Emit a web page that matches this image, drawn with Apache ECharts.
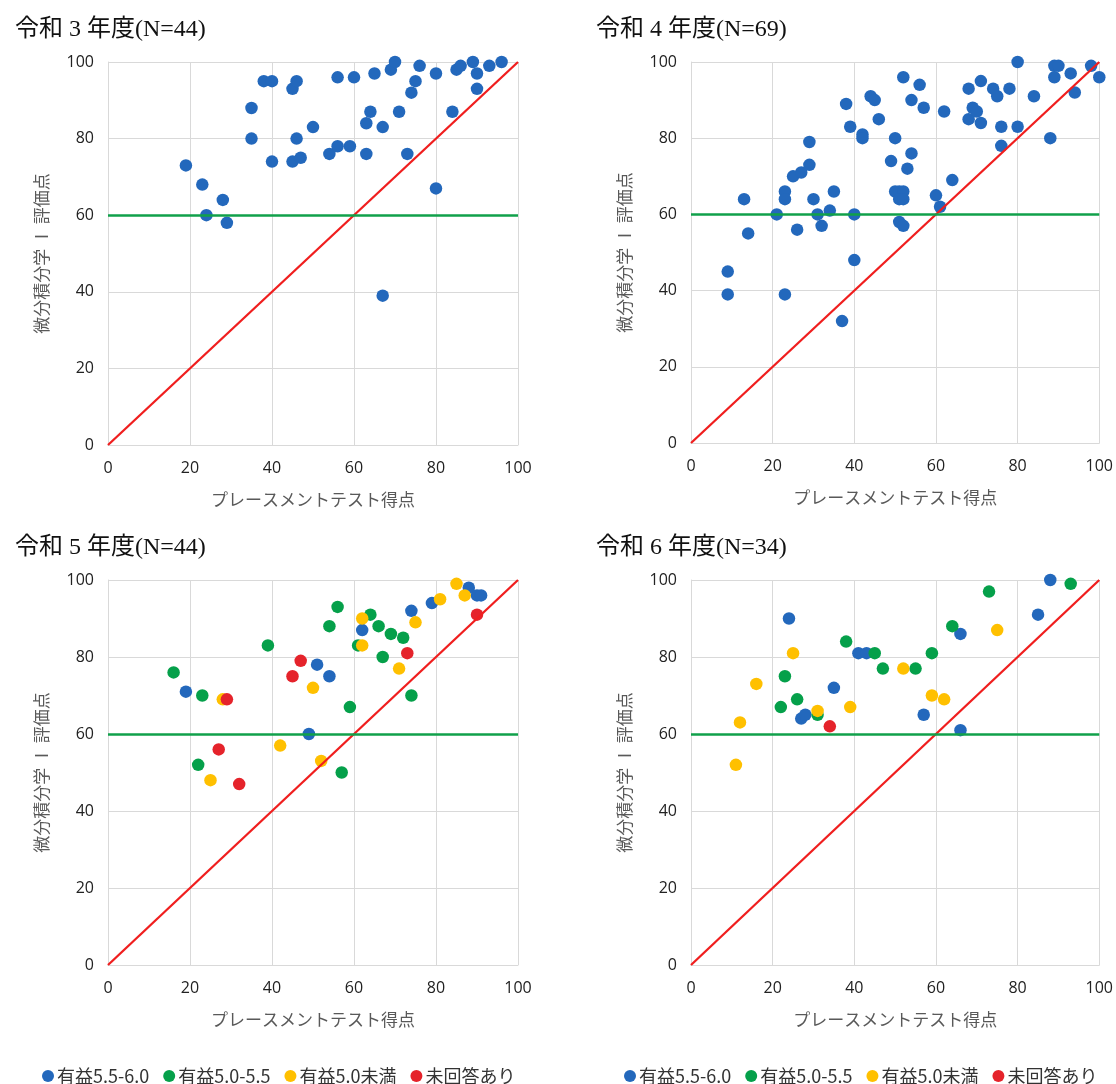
<!DOCTYPE html>
<html>
<head>
<meta charset="utf-8">
<script src="https://cdn.jsdelivr.net/npm/echarts@6/dist/echarts.min.js"></script>
<style>
html,body{margin:0;padding:0;background:#fff;}
#c{width:1116px;height:1084px;}
</style>
</head>
<body>
<div id="c"></div>
<script>
// ---- data ----
const panelTitles = ['令和 3 年度(N=44)', '令和 4 年度(N=69)', '令和 5 年度(N=44)', '令和 6 年度(N=34)'];
const categoryNames = ['有益5.5-6.0', '有益5.0-5.5', '有益5.0未満', '未回答あり'];
const xAxisName = 'プレースメントテスト得点';
const yAxisName = '微分積分学 Ⅰ 評価点';
const axisTicks = [0, 20, 40, 60, 80, 100];
const passLine = 60;
const diagonal = [[0, 0], [100, 100]];

const r3 = [[19,73],[23,68],[24,60],[28,64],[29,58],[35,88],[35,80],[38,95],[40,95],[40,74],
  [45,93],[46,95],[45,74],[47,75],[46,80],[50,83],[54,76],[56,78],[56,96],[59,78],
  [60,96],[63,76],[63,84],[64,87],[65,97],[67,83],[67,39],[69,98],[70,100],[71,87],
  [73,76],[74,92],[75,95],[76,99],[80,97],[80,67],[84,87],[85,98],[86,99],[89,100],
  [90,97],[90,93],[93,99],[96,100]];

const r4 = [[9,45],[9,39],[13,64],[14,55],[21,60],[23,66],[23,64],[23,39],[25,70],[27,71],
  [29,73],[29,79],[26,56],[30,64],[31,60],[32,57],[34,61],[35,66],[37,32],[38,89],
  [39,83],[40,60],[40,48],[42,81],[42,80],[44,91],[45,90],[46,85],[49,74],[50,80],
  [50,66],[51,66],[52,66],[51,64],[52,64],[51,58],[52,57],[52,96],[53,72],[54,76],
  [54,90],[56,94],[57,88],[60,65],[61,62],[62,87],[64,69],[68,93],[68,85],[69,88],
  [70,87],[71,95],[71,84],[74,93],[75,91],[76,83],[76,78],[78,93],[80,100],[80,83],
  [84,91],[88,80],[89,99],[90,99],[89,96],[93,97],[94,92],[98,99],[100,96]];

const r5Blue = [[19,71],[51,78],[54,75],[49,60],[62,87],[74,92],[79,94],[88,98],[90,96],[91,96]];
const r5Green = [[16,76],[23,70],[22,52],[39,83],[54,88],[56,93],[59,67],[57,50],[61,83],[64,91],
  [66,88],[67,80],[69,86],[72,85],[74,70]];
const r5Yellow = [[28,69],[25,48],[42,57],[50,72],[52,53],[62,90],[62,83],[71,77],[75,89],[81,95],
  [85,99],[87,96]];
const r5Red = [[29,69],[27,56],[32,47],[45,75],[47,79],[73,81],[90,91]];

const r6Blue = [[24,90],[27,64],[28,65],[35,72],[41,81],[43,81],[57,65],[66,86],[66,61],[85,91],[88,100]];
const r6Green = [[22,67],[23,75],[26,69],[31,65],[38,84],[45,81],[47,77],[55,77],[59,81],[64,88],
  [73,97],[93,99]];
const r6Yellow = [[12,63],[11,52],[16,73],[25,81],[31,66],[39,67],[52,77],[59,70],[62,69],[75,87]];
const r6Red = [[34,62]];

// ---- styles ----
const colors = ['#2368bc', '#05a04a', '#ffc000', '#e5232b'];
const grids = [
  {left:108, top:62, width:410, height:383},
  {left:691, top:62, width:410, height:381},
  {left:108, top:580, width:410, height:385},
  {left:691, top:580, width:410, height:385}
];
const titlePos = [{left:10, top:13}, {left:591, top:13}, {left:10, top:531}, {left:591, top:531}];
const labelFont = 'Open Sans';
const cjkFont = '"Noto Sans CJK JP", sans-serif';

const xAxes = [], yAxes = [], series = [], titles = [];
grids.forEach((g, i) => {
  xAxes.push({
    gridIndex:i, type:'value', min:axisTicks[0], max:axisTicks[axisTicks.length-1], interval:20,
    name:xAxisName, nameLocation:'middle', nameGap:46,
    nameTextStyle:{fontFamily:cjkFont, fontSize:17, color:'#595959'},
    axisLine:{show:true, lineStyle:{color:'#d9d9d9', width:1}},
    axisTick:{show:false},
    axisLabel:{fontFamily:labelFont, fontSize:16, color:'#222', margin:15},
    splitLine:{show:true, lineStyle:{color:'#d9d9d9', width:1}}
  });
  yAxes.push({
    gridIndex:i, type:'value', min:axisTicks[0], max:axisTicks[axisTicks.length-1], interval:20,
    name:yAxisName, nameLocation:'middle', nameGap:58,
    nameTextStyle:{fontFamily:cjkFont, fontSize:17, color:'#595959'},
    axisLine:{show:true, lineStyle:{color:'#d9d9d9', width:1}},
    axisTick:{show:false},
    axisLabel:{fontFamily:labelFont, fontSize:16, color:'#222', margin:14},
    splitLine:{show:true, lineStyle:{color:'#d9d9d9', width:1}}
  });
  titles.push({
    text:panelTitles[i], left:titlePos[i].left, top:titlePos[i].top,
    textStyle:{fontFamily:'"Liberation Serif", "Noto Sans CJK JP", serif', fontSize:24, fontWeight:'normal', color:'#111'}
  });
  // reference lines
  series.push({
    type:'line', xAxisIndex:i, yAxisIndex:i, data:[], silent:true, z:1,
    markLine:{
      silent:true, symbol:['none','none'], animation:false, label:{show:false},
      data:[
        [{coord:diagonal[0], lineStyle:{color:'#f01e1e', width:2.3, type:'solid'}},
         {coord:diagonal[1]}],
        {yAxis:passLine, lineStyle:{color:'#10a04a', width:2.6, type:'solid'}}
      ]
    }
  });
});

function scatter(name, data, idx, color) {
  return {
    name:name, type:'scatter', xAxisIndex:idx, yAxisIndex:idx, data:data,
    symbol:'circle', symbolSize:12.5, z:3,
    itemStyle:{color:color, opacity:1}
  };
}
series.push(scatter('R3', r3, 0, colors[0]));
series.push(scatter('R4', r4, 1, colors[0]));
[r5Blue, r5Green, r5Yellow, r5Red].forEach((d, k) => series.push(scatter(categoryNames[k], d, 2, colors[k])));
[r6Blue, r6Green, r6Yellow, r6Red].forEach((d, k) => series.push(scatter(categoryNames[k], d, 3, colors[k])));

const legendBase = {
  data:categoryNames, orient:'horizontal', top:1062, itemWidth:12, itemHeight:12, itemGap:14,
  icon:'circle', selectedMode:false,
  textStyle:{fontFamily:cjkFont, fontSize:18, color:'#333', padding:[0,0,0,-2]}
};

const chart = echarts.init(document.getElementById('c'), null, {renderer:'canvas'});
chart.setOption({
  animation:false,
  backgroundColor:'#fff',
  title:titles,
  grid:grids,
  xAxis:xAxes,
  yAxis:yAxes,
  legend:[
    Object.assign({}, legendBase, {left:37}),
    Object.assign({}, legendBase, {left:619})
  ],
  series:series
});
</script>
</body>
</html>
